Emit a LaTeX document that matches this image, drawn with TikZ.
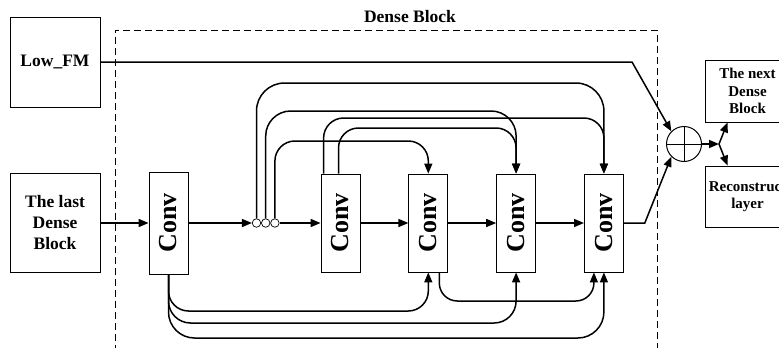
\documentclass[tikz,border=0pt]{standalone}
\usepackage{fontspec}
\setmainfont{Liberation Serif}
\usetikzlibrary{positioning,arrows.meta,calc}

\begin{document}
\begin{tikzpicture}[x=1pt,y=-1pt,node distance=48pt,>={Triangle[length=10pt,width=8pt]},
  blk/.style={draw,line width=0.8pt,align=center,font=\fontsize{17.5}{21}\selectfont\bfseries},
  smallblk/.style={blk,minimum width=85pt,font=\fontsize{15}{17.5}\selectfont\bfseries},
  conv/.style={draw,line width=0.8pt,minimum width=39pt,minimum height=98pt,inner sep=0pt,font=\fontsize{26}{26}\selectfont\bfseries},
  dot/.style={draw,circle,line width=0.7pt,minimum size=8.5pt,inner sep=0pt},
  link/.style={line width=1.5pt}]
\clip (0,0) rectangle (779,348);

% frame of the block
\draw[line width=0.8pt,dash pattern=on 7pt off 4pt] (115,352) |- (657,30) -- (657,352);
\node (title) at (410,17) [font=\fontsize{17.5}{21}\selectfont\bfseries] {Dense Block};

\node (low) at (55,62) [blk,minimum width=90pt,minimum height=90pt] {Low\_FM};
\node (last) at (55,223) [blk,minimum width=90pt,minimum height=99pt] {The last\\Dense\\Block};
\node (c1) at (168.5,223) [conv,minimum height=102pt] {\rotatebox{90}{Conv}};
\node (d1) at (256.5,223) [dot] {};
\node (d2) [dot,right=0pt of d1] {};
\node (d3) [dot,right=0pt of d2] {};
\node (c2) at (340.5,223) [conv] {\rotatebox{90}{Conv}};
\node (c3) [conv,right=of c2] {\rotatebox{90}{Conv}};
\node (c4) [conv,right=of c3] {\rotatebox{90}{Conv}};
\node (c5) [conv,right=of c4] {\rotatebox{90}{Conv}};
\node (sum) at (684,144) [draw,circle,line width=1pt,minimum size=35pt,
  path picture={\draw[line width=1pt] (path picture bounding box.north) -- (path picture bounding box.south)
    (path picture bounding box.west) -- (path picture bounding box.east);}] {};
\node (nxt) at (747.5,91) [smallblk,minimum height=62pt] {The next\\Dense\\Block};
\node (rec) at (747.5,196.5) [smallblk,minimum height=61pt] {Reconstruct\\layer};

\coordinate (c2a) at ($(c2.north west)+(3,0)$);
\coordinate (c2b) at ($(c2.north)+(-2,0)$);
\coordinate (c3r) at ($(c3.south)+(11,0)$);
\coordinate (c5l) at ($(c5.south)+(-10,0)$);
\coordinate (br) at (719,144);

% main chain
\draw[->,link] (last) -- (c1);
\draw[->,link] (c1) -- (d1);
\draw[->,link] (d3) -- (c2);
\draw[->,link] (c2) -- (c3);
\draw[->,link] (c3) -- (c4);
\draw[->,link] (c4) -- (c5);

% dense links over the top
\draw[->,link,rounded corners=28pt] (d1.north) |- (c5.north |- 0,83) -- (c5.north);
\draw[->,link,rounded corners=25pt] (d2.north) |- (c4.north |- 0,111) -- (c4.north);
\draw[->,link,rounded corners=20pt] (d3.north) |- (c3.north |- 0,141) -- (c3.north);
\draw[->,link,rounded corners=20pt] (c2a) |- (c5.north |- 0,118) -- (c5.north);
\draw[->,link,rounded corners=20pt] (c2b) |- (c4.north |- 0,128) -- (c4.north);

% dense links underneath
\draw[->,link,rounded corners=20pt] (c1.south) |- (c3.south |- 0,311) -- (c3.south);
\draw[->,link,rounded corners=22pt] (c1.south) |- (c4.south |- 0,323) -- (c4.south);
\draw[->,link,rounded corners=26pt] (c1.south) |- (c5.south |- 0,338) -- (c5.south);
\draw[->,link,rounded corners=18pt] (c3r) |- (c5l |- 0,301) -- (c5l);

% fusion and outputs
\draw[->,link] (low.east) -- (low.east -| 632,0) -- (sum.north west);
\draw[->,link] (c5.east) -- ++(21,0) -- (sum.south west);
\draw[->,link] (sum) -- (br);
\draw[->,link] (br) -- ($(nxt.south west)+(23,0)$);
\draw[->,link] (br) -- ($(rec.north west)+(23,0)$);
\end{tikzpicture}
\end{document}
